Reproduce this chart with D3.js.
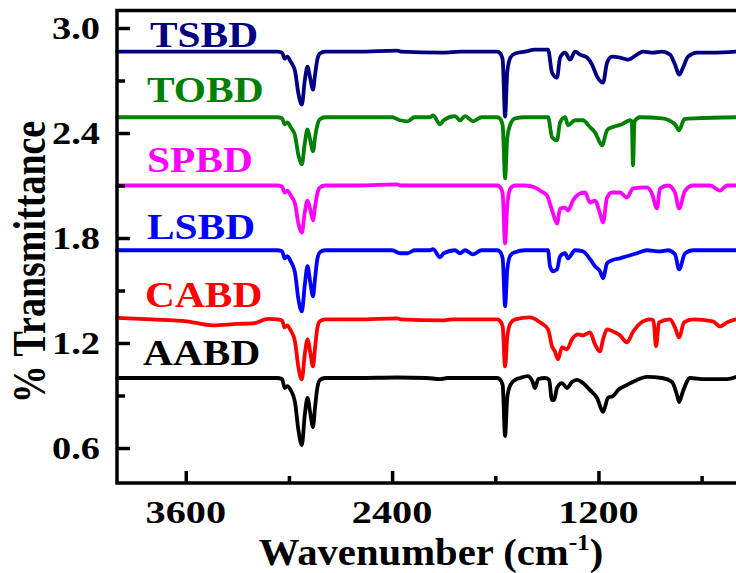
<!doctype html>
<html lang="en">

<head>
    <meta charset="UTF-8" />
    <title>FTIR spectra</title>
    <script src="https://d3js.org/d3.v7.min.js"></script>
    <style>
        body,
        html {
            margin: 0;
            padding: 0;
            background: #ffffff;
        }

        svg {
            display: block;
        }

        text {
            font-family: "Liberation Serif", "Times New Roman", serif;
            font-weight: bold;
        }

        .axis line,
        .frame {
            stroke: #000;
            stroke-width: 3.5px;
        }

        .spectrum {
            fill: none;
            stroke-width: 3.8px;
            stroke-linejoin: round;
            stroke-linecap: round;
        }
    </style>
</head>

<body>
    <svg id="chart" width="736" height="573"></svg>
    <script>
        // ticks
        const xMajor = [3600, 2400, 1200];
        const xMinor = [3000, 1800, 600];
        const yMajor = [0.6, 1.2, 1.8, 2.4, 3.0];
        const yMinor = [0.9, 1.5, 2.1, 2.7];

        // samples, bottom to top, and the vertical shift each one is stacked with
        const names = ["AABD", "CABD", "LSBD", "SPBD", "TOBD", "TSBD"];
        const offsets = [0, 0.335, 0.73, 1.10, 1.49, 1.865];
        const colors = ["#000000", "#ff0000", "#0000ff", "#ff00ff", "#008000", "#000080"];

        // [wavenumber, transmittance]
        const aabd = [[4000, 1.0], [3600, 1.0], [3300, 1.0], [3100, 1.0], [3070, 1.0], [3040, 0.994], [3025, 0.943], [3010, 0.954], [2990, 0.931], [2965, 0.863], [2945, 0.703], [2925, 0.617], [2908, 0.789], [2892, 0.886], [2876, 0.8], [2860, 0.72], [2848, 0.834], [2835, 0.943], [2820, 0.989], [2790, 1.0], [2600, 1.0], [2370, 1.003], [2200, 1.0], [2120, 0.994], [2080, 1.0], [1900, 1.0], [1790, 1.0], [1775, 0.994], [1757, 0.96], [1743, 0.669], [1730, 0.891], [1712, 0.96], [1685, 0.989], [1656, 1.0], [1610, 1.011], [1585, 0.983], [1569, 0.943], [1550, 0.994], [1511, 1.0], [1487, 0.989], [1470, 0.874], [1458, 0.874], [1441, 0.943], [1412, 0.971], [1383, 0.943], [1354, 0.977], [1325, 0.989], [1290, 0.971], [1249, 0.931], [1208, 0.886], [1173, 0.806], [1145, 0.886], [1115, 0.897], [1086, 0.931], [1034, 0.96], [976, 0.989], [918, 1.006], [830, 1.0], [772, 0.977], [743, 0.903], [731, 0.863], [708, 0.926], [667, 1.0], [586, 0.994], [493, 0.994], [452, 0.994], [400, 1.006]];

        const cabd = [[4000, 1.009], [3800, 1.0], [3593, 0.989], [3442, 0.966], [3300, 0.974], [3209, 0.977], [3120, 1.003], [3070, 1.0], [3040, 0.994], [3025, 0.954], [3010, 0.966], [2990, 0.937], [2965, 0.874], [2945, 0.726], [2925, 0.657], [2908, 0.8], [2892, 0.886], [2876, 0.811], [2860, 0.731], [2848, 0.84], [2835, 0.949], [2820, 0.989], [2790, 1.0], [2600, 1.0], [2370, 1.006], [2350, 1.0], [2110, 0.994], [2050, 1.0], [1900, 1.0], [1790, 1.0], [1775, 0.994], [1757, 0.96], [1743, 0.731], [1730, 0.9], [1712, 0.977], [1685, 1.0], [1598, 1.011], [1540, 0.983], [1493, 0.943], [1470, 0.846], [1453, 0.817], [1435, 0.771], [1412, 0.84], [1383, 0.829], [1354, 0.886], [1319, 0.914], [1290, 0.909], [1249, 0.926], [1220, 0.857], [1191, 0.817], [1173, 0.886], [1150, 0.943], [1115, 0.931], [1075, 0.909], [1034, 0.869], [999, 0.929], [941, 0.989], [900, 1.0], [880, 0.994], [865, 0.846], [848, 0.983], [784, 1.0], [755, 0.954], [731, 0.897], [702, 0.983], [650, 1.0], [534, 0.989], [493, 0.96], [452, 0.983], [400, 1.0]];

        const lsbd = [[4000, 1.0], [3600, 1.0], [3300, 1.0], [3100, 1.0], [3070, 1.0], [3040, 0.994], [3025, 0.954], [3010, 0.966], [2990, 0.937], [2965, 0.874], [2945, 0.72], [2925, 0.651], [2908, 0.8], [2892, 0.909], [2876, 0.817], [2860, 0.737], [2848, 0.84], [2835, 0.949], [2820, 0.989], [2790, 1.0], [2500, 1.0], [2400, 1.0], [2354, 0.983], [2310, 0.983], [2270, 1.0], [2180, 1.0], [2162, 1.006], [2121, 0.96], [2100, 0.983], [2034, 1.0], [2005, 0.983], [1976, 1.0], [1930, 0.977], [1880, 1.0], [1790, 1.0], [1775, 0.994], [1757, 0.954], [1743, 0.68], [1730, 0.891], [1712, 0.971], [1685, 0.989], [1627, 1.0], [1493, 1.0], [1482, 0.909], [1464, 0.88], [1441, 0.891], [1423, 0.966], [1394, 0.983], [1377, 0.954], [1336, 1.0], [1290, 0.994], [1249, 0.949], [1220, 0.909], [1191, 0.88], [1173, 0.84], [1150, 0.926], [1121, 0.943], [1075, 0.954], [1034, 0.966], [976, 0.983], [918, 1.0], [842, 0.994], [795, 1.0], [755, 0.977], [731, 0.891], [696, 0.983], [650, 1.0], [400, 1.0]];

        const spbd = [[4000, 1.0], [3600, 1.0], [3300, 1.0], [3100, 1.0], [3070, 1.0], [3040, 0.994], [3025, 0.96], [3010, 0.971], [2990, 0.943], [2965, 0.897], [2945, 0.783], [2925, 0.731], [2908, 0.846], [2892, 0.914], [2876, 0.863], [2860, 0.8], [2848, 0.88], [2835, 0.954], [2820, 0.989], [2790, 1.0], [2600, 1.0], [2370, 1.006], [2350, 1.0], [1900, 1.0], [1790, 1.0], [1775, 0.994], [1757, 0.954], [1743, 0.669], [1730, 0.891], [1712, 0.983], [1685, 1.0], [1627, 1.0], [1569, 0.989], [1540, 0.971], [1499, 0.943], [1482, 0.897], [1464, 0.84], [1441, 0.783], [1423, 0.869], [1394, 0.874], [1377, 0.857], [1348, 0.914], [1307, 0.954], [1278, 0.96], [1249, 0.903], [1220, 0.914], [1191, 0.84], [1173, 0.789], [1150, 0.931], [1121, 0.96], [1075, 0.96], [1034, 0.931], [999, 0.983], [918, 0.989], [889, 0.954], [860, 0.869], [842, 0.983], [795, 1.0], [755, 0.96], [731, 0.869], [696, 0.971], [650, 1.0], [551, 1.0], [493, 0.971], [452, 1.0], [400, 1.0]];

        const tobd = [[4000, 1.0], [3600, 1.0], [3300, 1.0], [3100, 1.0], [3070, 1.0], [3040, 0.994], [3025, 0.96], [3010, 0.971], [2990, 0.943], [2965, 0.897], [2945, 0.783], [2925, 0.731], [2908, 0.851], [2892, 0.931], [2876, 0.869], [2860, 0.806], [2848, 0.886], [2835, 0.954], [2820, 0.989], [2790, 1.0], [2500, 1.0], [2400, 1.0], [2354, 0.983], [2310, 0.977], [2270, 1.0], [2180, 1.0], [2162, 1.011], [2121, 0.96], [2100, 0.983], [2034, 1.006], [2005, 0.983], [1976, 1.006], [1930, 0.977], [1880, 1.0], [1790, 1.0], [1775, 0.994], [1757, 0.954], [1743, 0.651], [1730, 0.886], [1712, 0.96], [1685, 0.994], [1627, 1.0], [1493, 1.0], [1470, 0.886], [1441, 0.869], [1423, 0.971], [1394, 1.0], [1377, 0.954], [1336, 0.983], [1290, 0.983], [1249, 0.943], [1220, 0.914], [1179, 0.84], [1150, 0.926], [1121, 0.943], [1063, 0.96], [1016, 0.983], [1006, 0.977], [999, 0.726], [990, 0.977], [958, 1.0], [830, 0.994], [755, 0.96], [731, 0.926], [700, 0.989], [640, 0.994], [400, 1.0]];

        const tsbd = [[4000, 1.0], [3600, 1.0], [3300, 1.0], [3100, 1.0], [3070, 1.0], [3040, 0.994], [3025, 0.96], [3010, 0.971], [2990, 0.943], [2965, 0.891], [2945, 0.76], [2925, 0.697], [2908, 0.834], [2892, 0.914], [2876, 0.846], [2860, 0.783], [2848, 0.869], [2835, 0.954], [2820, 0.989], [2790, 1.0], [2600, 1.0], [2370, 1.006], [2350, 1.0], [2110, 0.994], [2000, 1.0], [1790, 1.0], [1775, 0.994], [1757, 0.954], [1743, 0.629], [1730, 0.886], [1712, 0.966], [1685, 0.989], [1627, 1.0], [1569, 1.011], [1493, 1.011], [1470, 0.88], [1441, 0.851], [1423, 0.966], [1394, 0.994], [1365, 0.954], [1336, 1.0], [1307, 0.983], [1266, 0.966], [1237, 0.926], [1208, 0.857], [1173, 0.823], [1150, 0.937], [1121, 0.971], [1075, 0.966], [1028, 0.954], [976, 0.983], [941, 1.0], [883, 0.994], [830, 1.0], [784, 0.983], [755, 0.926], [731, 0.869], [708, 0.909], [679, 0.971], [627, 0.994], [534, 0.994], [400, 1.0]];

        const spectra = [aabd, cabd, lsbd, spbd, tobd, tsbd];

        const svg = d3.select("#chart");
        const plotLeft = 117, plotRight = 736, plotTop = 10.5, plotBottom = 483;

        const x = d3.scaleLinear().domain([4000, 400]).range([plotLeft, plotRight]);
        const y = d3.scaleLinear().domain([0.4, 3.1]).range([plotBottom, plotTop]);

        svg.append("rect").attr("width", 736).attr("height", 573).attr("fill", "#fff");

        // spectra
        const plot = svg.append("g");
        spectra.forEach((pts, i) => {
            const line = d3.line()
                .x(d => x(d[0]))
                .y(d => y(d[1] + offsets[i]))
                .curve(d3.curveMonotoneX);
            plot.append("path")
                .attr("class", "spectrum")
                .attr("stroke", colors[i])
                .attr("d", line(pts));
        });

        // ticks (pointing inward)
        svg.append("g").attr("class", "axis")
            .attr("transform", `translate(0,${plotBottom})`)
            .call(d3.axisBottom(x).tickValues(xMajor).tickSize(-12).tickFormat(""))
            .call(g => g.select(".domain").remove());
        svg.append("g").attr("class", "axis")
            .attr("transform", `translate(0,${plotBottom})`)
            .call(d3.axisBottom(x).tickValues(xMinor).tickSize(-7).tickFormat(""))
            .call(g => g.select(".domain").remove());
        svg.append("g").attr("class", "axis")
            .attr("transform", `translate(${plotLeft},0)`)
            .call(d3.axisLeft(y).tickValues(yMajor).tickSize(-13).tickFormat(""))
            .call(g => g.select(".domain").remove());
        svg.append("g").attr("class", "axis")
            .attr("transform", `translate(${plotLeft},0)`)
            .call(d3.axisLeft(y).tickValues(yMinor).tickSize(-8).tickFormat(""))
            .call(g => g.select(".domain").remove());

        // frame: left, bottom, top
        svg.append("path").attr("class", "frame").attr("fill", "none")
            .attr("d", `M${plotRight + 2},${plotTop}H${plotLeft}V${plotBottom}H${plotRight + 2}`);

        // tick labels (the original is stretched sideways)
        svg.selectAll(".xlab").data(xMajor).join("text")
            .attr("transform", d => `translate(${x(d)},523) scale(1.3,1)`)
            .attr("text-anchor", "middle")
            .attr("font-size", 31)
            .text(d => d);

        svg.selectAll(".ylab").data(yMajor).join("text")
            .attr("transform", d => `translate(100,${y(d) + 11}) scale(1.2,1)`)
            .attr("text-anchor", "end")
            .attr("font-size", 32)
            .text(d => d.toFixed(1));

        // sample names
        const labelY = [365, 306.5, 239, 171.5, 101.5, 46.5];
        const labelX = [143, 145, 147, 147, 147, 150];
        names.forEach((n, i) => {
            svg.append("text")
                .attr("transform", `translate(${labelX[i]},${labelY[i]}) scale(1.15,1)`)
                .attr("font-size", 36)
                .attr("fill", colors[i])
                .text(n);
        });

        // axis titles
        const xt = svg.append("text")
            .attr("transform", "translate(431,565) scale(1.1,1)")
            .attr("text-anchor", "middle")
            .attr("font-size", 37);
        xt.append("tspan").text("Wavenumber (cm");
        xt.append("tspan").attr("dy", -15).attr("font-size", 23).text("-1");
        xt.append("tspan").attr("dy", 15).text(")");

        svg.append("text")
            .attr("transform", "translate(45,262) scale(1.2,1) rotate(-90)")
            .attr("text-anchor", "middle")
            .attr("font-size", 38)
            .text("% Transmittance");
    </script>
</body>

</html>
